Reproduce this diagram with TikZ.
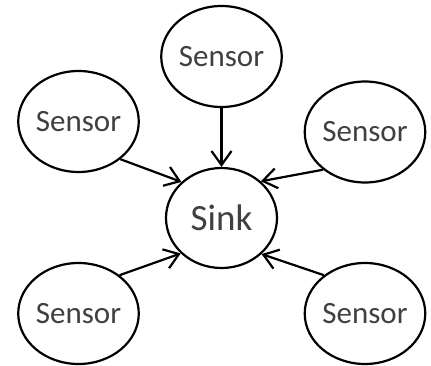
\documentclass[tikz,border=0pt]{standalone}
\usepackage{fontspec}
\setmainfont{Carlito}
\usetikzlibrary{shapes.geometric,arrows.meta}
\definecolor{txt}{HTML}{404040}
\tikzset{
  sensor/.style={draw=black, line width=2.2pt, ellipse, minimum width=111pt, minimum height=101pt, inner sep=0pt, text=txt, font=\fontsize{31}{31}\selectfont},
  sinknode/.style={sensor, minimum height=100pt, font=\fontsize{37}{37}\selectfont},
  link/.style={line width=2.2pt, -{Straight Barb[length=14pt,width=20pt,line width=2.2pt]}}
}
\begin{document}
\begin{tikzpicture}[x=1pt,y=-1pt]
\useasboundingbox (0,0) rectangle (431,366);
\node[sinknode] (s) at (221.5,218) {Sink};
\node[sensor] (t) at (221.5,56.5) {Sensor};
\node[sensor] (l) at (78.5,121.5) {Sensor};
\node[sensor] (r) at (365,132) {Sensor};
\node[sensor] (bl) at (78.5,313.5) {Sensor};
\node[sensor] (br) at (365,313.5) {Sensor};
\draw[link] (t.south) -- (s.north);
\draw[link] (l.-42) -- (s.138);
\draw[link] (r.222) -- (s.43);
\draw[link] (bl.43) -- (s.221);
\draw[link] (br.137) -- (s.-42);
\end{tikzpicture}
\end{document}
